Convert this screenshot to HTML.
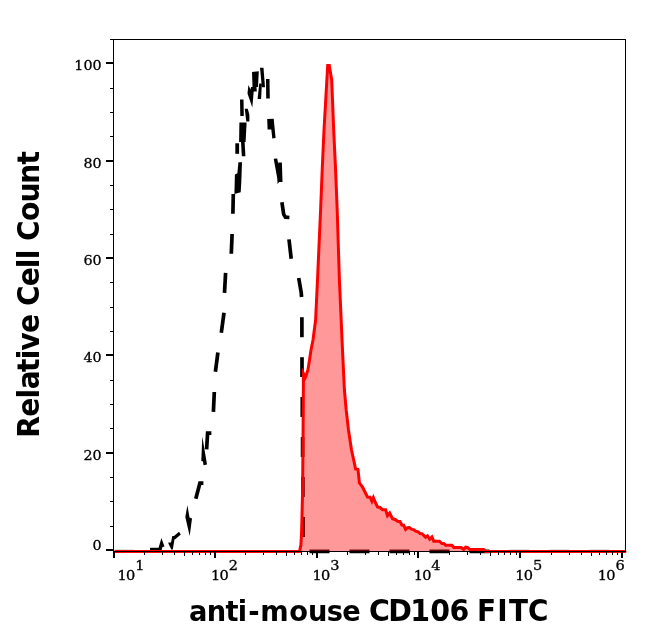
<!DOCTYPE html>
<html><head><meta charset="utf-8"><title>anti-mouse CD106 FITC</title>
<style>
html,body{margin:0;padding:0;background:#fff;}
body{width:646px;height:641px;overflow:hidden;}
svg{display:block;}
.tk{font-family:"DejaVu Serif","Liberation Serif",serif;font-size:13.6px;fill:#000;stroke:#000;stroke-width:0.3px;}
.lb{font-family:"DejaVu Sans","Liberation Sans",sans-serif;font-weight:bold;font-size:30px;fill:#000;}
</style></head><body>
<svg width="646" height="641" viewBox="0 0 646 641">
<rect x="0" y="0" width="646" height="641" fill="#fff"/>

<g fill="#000" stroke="none">
<polygon points="150.0,547.8 158.6,547.8 161.4,538.0 164.5,546.5 162.5,547.0 161.5,550.5 150.0,550.5"/>
<polygon points="168.4,542.5 171.0,542.5 172.3,536.0 174.0,536.0 179.0,531.8 180.8,534.5 175.5,539.0 174.5,539.5 172.8,549.5 171.3,549.5 168.4,543.5"/>
<polygon points="187.4,505.2 189.5,517.5 192.0,518.6 189.7,536.0 185.3,517.1"/>
<polygon points="202.3,436.5 207.0,464.6 203.5,465.2 203.0,461.5 201.3,461.0"/>
<polygon points="234.4,194.0 234.9,174.6 237.4,173.2 238.4,162.2 242.0,162.2 241.3,182.0 240.7,192.2"/>
<polygon points="235.3,143.3 239.1,143.3 239.1,153.8 235.3,153.8"/>
<polygon points="241.0,141.6 244.6,141.6 245.4,156.3 241.8,156.3"/>
<polygon points="239.4,122.4 246.6,122.4 245.6,142.0 239.1,142.0"/>
<polygon points="240.0,99.6 243.5,99.6 243.8,116.0 240.3,116.0"/>
<polygon points="244.7,108.7 247.8,108.7 249.4,115.0 249.4,121.5 246.3,121.5"/>
<polygon points="248.4,85.0 250.5,89.5 251.0,87.0 256.5,87.0 256.8,91.6 253.7,91.6 252.3,107.6 247.5,93.5"/>
<polygon points="252.0,72.0 258.8,71.3 258.0,87.0 252.5,87.0"/>
<polygon points="259.2,83.4 261.9,83.4 261.1,99.0 257.6,99.0"/>
<polygon points="260.0,67.8 263.5,67.8 265.0,87.3 261.9,87.3"/>
<polygon points="266.0,79.1 269.5,79.1 269.8,98.6 266.2,98.6"/>
<polygon points="267.2,119.0 273.7,118.8 275.6,138.0 272.3,138.6 271.3,129.4 267.6,129.4"/>
<polygon points="273.7,158.8 277.2,158.6 278.3,164.0 278.3,162.5 281.9,162.5 282.5,182.0 279.2,182.0 277.6,184.0 277.2,178.0"/>
</g>
<g fill="none" stroke="#000" stroke-width="3.7" stroke-linejoin="miter" stroke-linecap="butt">
<path d="M195.8,498.8 L199.9,483.2 L203.4,483.2"/>
<path d="M206.6,449.4 L207.6,433.2 L211.4,433.2"/>
<path d="M213.4,411.8 L214.3,392.0"/>
<path d="M215.4,371.8 L217.9,352.6"/>
<path d="M221.3,332.8 L224.0,312.8"/>
<path d="M224.5,292.8 L225.6,272.9"/>
<path d="M231.3,253.8 L232.1,234.0"/>
<path d="M232.9,213.7 L233.3,194.0"/>
<path d="M281.9,202.2 L283.7,214.4 L285.5,217.2 L289.4,217.5"/>
<path d="M289.0,239.4 L291.2,258.7"/>
<path d="M298.7,278.0 L301.2,292.5 L301.6,297.0"/>
<path d="M301.9,317.2 L301.9,337.2"/>
<path d="M302.0,357.2 L302.0,377.0"/>
<path d="M302.3,397.0 L302.3,417.0"/>
<path d="M302.6,437.0 L302.6,457.0"/>
<path d="M302.9,477.0 L302.9,497.0"/>
<path d="M303.1,517.0 L303.1,537.0"/>
<path d="M309.5,551.4 L329.5,551.4"/>
<path d="M349.5,551.4 L369.5,551.4"/>
<path d="M389.5,551.4 L409.5,551.4"/>
<path d="M429.5,551.4 L449.5,551.4"/>
<path d="M469.5,551.4 L489.5,551.4"/>
</g>
<path d="M299.5,551.5 L300.9,545.0 L301.5,534.0 L301.9,520.0 L302.6,490.0 L303.1,430.0 L303.4,381.0 L305.7,376.8 L307.9,370.0 L309.5,360.0 L311.0,350.0 L313.0,340.0 L315.6,320.0 L317.5,280.0 L320.6,210.0 L322.2,170.0 L324.0,130.0 L327.7,65.5 L329.3,65.5 L331.7,80.0 L333.7,130.0 L335.6,170.0 L337.2,210.0 L339.4,280.0 L342.5,350.0 L344.4,390.0 L346.2,410.0 L348.5,430.0 L351.5,450.0 L353.7,460.0 L355.6,469.0 L358.0,469.5 L359.4,483.0 L362.5,487.0 L367.5,497.0 L370.0,497.2 L371.9,501.2 L373.4,497.6 L375.6,503.0 L377.5,507.0 L380.0,507.5 L382.5,509.7 L385.6,509.7 L387.5,515.6 L389.7,513.0 L392.5,518.7 L395.6,519.7 L397.5,521.2 L400.0,521.5 L401.9,525.0 L403.7,525.2 L405.6,529.4 L407.5,527.7 L409.4,527.5 L411.9,529.4 L413.7,529.6 L415.6,531.2 L418.1,531.9 L420.0,533.5 L421.9,533.7 L425.6,537.2 L427.5,535.8 L429.7,539.2 L431.9,537.0 L433.7,541.2 L439.4,541.2 L441.9,543.5 L443.7,543.5 L445.6,545.2 L451.9,545.2 L454.0,547.5 L461.2,547.5 L463.7,549.4 L465.6,547.2 L467.5,547.5 L470.0,549.6 L483.7,549.6 L485.6,551.5 Z" fill="#ff0000" fill-opacity="0.4" stroke="none"/>
<rect x="509.5" y="549" width="20" height="1" fill="#dde3e3"/>
<rect x="549.5" y="549" width="20" height="1" fill="#dde3e3"/>
<rect x="589.5" y="549" width="20" height="1" fill="#dde3e3"/>
<rect x="114" y="549" width="20" height="1" fill="#dde3e3"/>
<path d="M115.5,551.5 L299.5,551.5 L300.9,545.0 L301.5,534.0 L301.9,520.0 L302.6,490.0 L303.1,430.0 L303.4,381.0 L305.7,376.8 L307.9,370.0 L309.5,360.0 L311.0,350.0 L313.0,340.0 L315.6,320.0 L317.5,280.0 L320.6,210.0 L322.2,170.0 L324.0,130.0 L327.7,65.5 L329.3,65.5 L331.7,80.0 L333.7,130.0 L335.6,170.0 L337.2,210.0 L339.4,280.0 L342.5,350.0 L344.4,390.0 L346.2,410.0 L348.5,430.0 L351.5,450.0 L353.7,460.0 L355.6,469.0 L358.0,469.5 L359.4,483.0 L362.5,487.0 L367.5,497.0 L370.0,497.2 L371.9,501.2 L373.4,497.6 L375.6,503.0 L377.5,507.0 L380.0,507.5 L382.5,509.7 L385.6,509.7 L387.5,515.6 L389.7,513.0 L392.5,518.7 L395.6,519.7 L397.5,521.2 L400.0,521.5 L401.9,525.0 L403.7,525.2 L405.6,529.4 L407.5,527.7 L409.4,527.5 L411.9,529.4 L413.7,529.6 L415.6,531.2 L418.1,531.9 L420.0,533.5 L421.9,533.7 L425.6,537.2 L427.5,535.8 L429.7,539.2 L431.9,537.0 L433.7,541.2 L439.4,541.2 L441.9,543.5 L443.7,543.5 L445.6,545.2 L451.9,545.2 L454.0,547.5 L461.2,547.5 L463.7,549.4 L465.6,547.2 L467.5,547.5 L470.0,549.6 L483.7,549.6 L485.6,551.5 L625.0,551.5" fill="none" stroke="#ff0000" stroke-width="3" stroke-linejoin="miter" stroke-miterlimit="6" stroke-linecap="round"/>
<polygon points="301.85,381 301.85,368.7 302.2,367.8 305.3,373.8 305.6,380" fill="#ff0000"/>
<g shape-rendering="crispEdges" fill="#000">
<rect x="113" y="39" width="513" height="1"/>
<rect x="113" y="551" width="513" height="1"/>
<rect x="113" y="39" width="1" height="513"/>
<rect x="625" y="39" width="1" height="513"/>
<rect x="106" y="549" width="7" height="2"/>
<rect x="110" y="526" width="3" height="1"/>
<rect x="110" y="501" width="3" height="1"/>
<rect x="110" y="477" width="3" height="1"/>
<rect x="106" y="452" width="7" height="2"/>
<rect x="110" y="428" width="3" height="1"/>
<rect x="110" y="404" width="3" height="1"/>
<rect x="110" y="380" width="3" height="1"/>
<rect x="106" y="354" width="7" height="2"/>
<rect x="110" y="331" width="3" height="1"/>
<rect x="110" y="307" width="3" height="1"/>
<rect x="110" y="282" width="3" height="1"/>
<rect x="106" y="257" width="7" height="2"/>
<rect x="110" y="234" width="3" height="1"/>
<rect x="110" y="209" width="3" height="1"/>
<rect x="110" y="185" width="3" height="1"/>
<rect x="106" y="160" width="7" height="2"/>
<rect x="110" y="136" width="3" height="1"/>
<rect x="110" y="112" width="3" height="1"/>
<rect x="110" y="88" width="3" height="1"/>
<rect x="106" y="62" width="7" height="2"/>
<rect x="110" y="39" width="3" height="1"/>
<rect x="113" y="551" width="2" height="7"/>
<rect x="144" y="551" width="1" height="4"/>
<rect x="162" y="551" width="1" height="4"/>
<rect x="174" y="551" width="1" height="4"/>
<rect x="184" y="551" width="1" height="5"/>
<rect x="192" y="551" width="1" height="4"/>
<rect x="199" y="551" width="1" height="4"/>
<rect x="205" y="551" width="1" height="4"/>
<rect x="210" y="551" width="1" height="4"/>
<rect x="214" y="551" width="2" height="7"/>
<rect x="245" y="551" width="1" height="4"/>
<rect x="263" y="551" width="1" height="4"/>
<rect x="276" y="551" width="1" height="4"/>
<rect x="286" y="551" width="1" height="5"/>
<rect x="294" y="551" width="1" height="4"/>
<rect x="301" y="551" width="1" height="4"/>
<rect x="307" y="551" width="1" height="4"/>
<rect x="312" y="551" width="1" height="4"/>
<rect x="316" y="551" width="2" height="7"/>
<rect x="347" y="551" width="1" height="4"/>
<rect x="365" y="551" width="1" height="4"/>
<rect x="378" y="551" width="1" height="4"/>
<rect x="388" y="551" width="1" height="5"/>
<rect x="396" y="551" width="1" height="4"/>
<rect x="403" y="551" width="1" height="4"/>
<rect x="409" y="551" width="1" height="4"/>
<rect x="414" y="551" width="1" height="4"/>
<rect x="417" y="551" width="2" height="7"/>
<rect x="449" y="551" width="1" height="4"/>
<rect x="467" y="551" width="1" height="4"/>
<rect x="480" y="551" width="1" height="4"/>
<rect x="490" y="551" width="1" height="5"/>
<rect x="498" y="551" width="1" height="4"/>
<rect x="504" y="551" width="1" height="4"/>
<rect x="510" y="551" width="1" height="4"/>
<rect x="516" y="551" width="1" height="4"/>
<rect x="519" y="551" width="2" height="7"/>
<rect x="551" y="551" width="1" height="4"/>
<rect x="569" y="551" width="1" height="4"/>
<rect x="581" y="551" width="1" height="4"/>
<rect x="591" y="551" width="1" height="5"/>
<rect x="599" y="551" width="1" height="4"/>
<rect x="606" y="551" width="1" height="4"/>
<rect x="612" y="551" width="1" height="4"/>
<rect x="617" y="551" width="1" height="4"/>
<rect x="621" y="551" width="2" height="7"/>
</g>
<text class="tk" transform="translate(101.6,549.8) scale(1.05,1)" text-anchor="end">0</text>
<text class="tk" transform="translate(101.6,460.0) scale(1.05,1)" text-anchor="end">20</text>
<text class="tk" transform="translate(101.6,362.0) scale(1.05,1)" text-anchor="end">40</text>
<text class="tk" transform="translate(101.6,265.0) scale(1.05,1)" text-anchor="end">60</text>
<text class="tk" transform="translate(101.6,168.0) scale(1.05,1)" text-anchor="end">80</text>
<text class="tk" transform="translate(101.6,70.0) scale(1.05,1)" text-anchor="end">100</text>
<text class="tk" transform="translate(117.6,580) scale(1.07,1)" x="0 7.95" y="0">10<tspan x="16.5" dy="-10">1</tspan></text>
<text class="tk" transform="translate(211.0,580) scale(1.07,1)" x="0 7.95" y="0">10<tspan x="16.5" dy="-10">2</tspan></text>
<text class="tk" transform="translate(312.6,580) scale(1.07,1)" x="0 7.95" y="0">10<tspan x="16.5" dy="-10">3</tspan></text>
<text class="tk" transform="translate(413.7,580) scale(1.07,1)" x="0 7.95" y="0">10<tspan x="16.5" dy="-10">4</tspan></text>
<text class="tk" transform="translate(515.3,580) scale(1.07,1)" x="0 7.95" y="0">10<tspan x="16.5" dy="-10">5</tspan></text>
<text class="tk" transform="translate(597.8,580) scale(1.07,1)" x="0 7.95" y="0">10<tspan x="16.5" dy="-10">6</tspan></text>
<text class="lb" transform="translate(190.10,620.8) scale(0.91,0.95)" x="-1.29 18.30 38.86 52.50 63.94 77.00 108.93 129.52 150.18 167.11" y="0">anti-mouse</text>
<text class="lb" transform="translate(370.10,620.8) scale(0.95,1.0)" x="-1.27 19.17 42.38 63.41 83.54" y="0">CD106</text>
<text class="lb" transform="translate(479.80,620.8) scale(0.93,1.0)" x="-2.89 18.78 31.33 51.89" y="0">FITC</text>
<text class="lb" transform="translate(39.3,436.10) rotate(-90) scale(0.94,0.99)" x="-1.88 20.71 40.07 49.72 68.30 81.77 90.80 109.69" y="0">Relative</text>
<text class="lb" transform="translate(39.3,304.90) rotate(-90) scale(0.94,0.99)" x="-1.22 19.85 38.95 48.69" y="0">Cell</text>
<text class="lb" transform="translate(39.3,239.80) rotate(-90) scale(0.94,0.99)" x="-1.33 19.91 39.68 59.77 80.21" y="0">Count</text>
</svg></body></html>
